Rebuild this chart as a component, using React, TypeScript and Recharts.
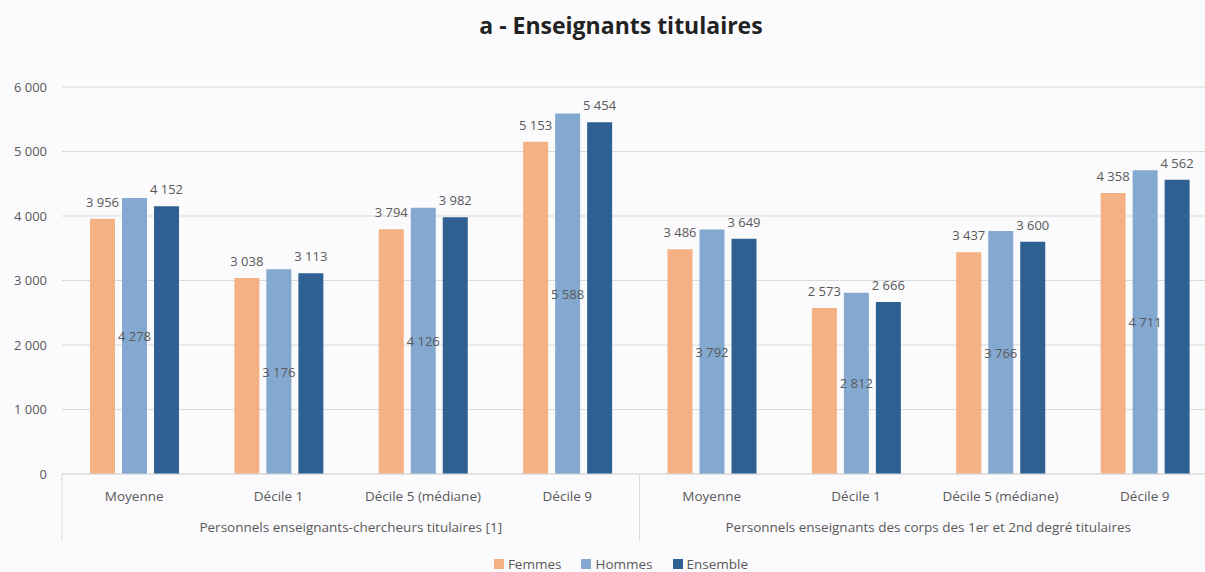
import React from "react";
import {
  BarChart, Bar, XAxis, YAxis, CartesianGrid, Legend, LabelList,
} from "recharts";

const CATEGORIES = [
  "Moyenne", "Décile 1", "Décile 5 (médiane)", "Décile 9",
  "Moyenne", "Décile 1", "Décile 5 (médiane)", "Décile 9",
];
const GROUPS = [
  "Personnels enseignants-chercheurs titulaires [1]",
  "Personnels enseignants des corps des 1er et 2nd degré titulaires",
];
const FEMMES = [3956, 3038, 3794, 5153, 3486, 2573, 3437, 4358];
const HOMMES = [4278, 3176, 4126, 5588, 3792, 2812, 3766, 4711];
const ENSEMBLE = [4152, 3113, 3982, 5454, 3649, 2666, 3600, 4562];
const Y_TICKS = [0, 1000, 2000, 3000, 4000, 5000, 6000];
const SERIES = [
  { key: "femmes", name: "Femmes", color: "#f4b183" },
  { key: "hommes", name: "Hommes", color: "#84a9d0" },
  { key: "ensemble", name: "Ensemble", color: "#2f6092" },
];

const data = CATEGORIES.map((c, i) => ({
  cat: c,
  key: `${i}`,
  femmes: FEMMES[i],
  hommes: HOMMES[i],
  ensemble: ENSEMBLE[i],
}));

const W = 1217;
const H = 572;
const LEFT = 62;
const TOP = 87;
const XH = 30;
const BOTTOM = 98 - XH;
const BAND = (W - LEFT) / CATEGORIES.length;
const FONT = "'Open Sans', sans-serif";
const TEXT = "#595959";
const LINE = "#d9d9d9";

const fmt = (v: number) => String(v).replace(/\B(?=(\d{3})+(?!\d))/g, " ");

function CatTick(props: any) {
  const { x, y, payload, index } = props;
  const i = index ?? payload.index;
  const els: React.ReactNode[] = [];
  els.push(
    <text key="c" x={x} y={y + 27} textAnchor="middle" fill={TEXT} fontSize={13.5} fontFamily={FONT}>
      {CATEGORIES[i]}
    </text>
  );
  if (i % 4 === 0) {
    els.push(
      <line key="l" x1={x - BAND / 2} x2={x - BAND / 2} y1={y} y2={y + 66} stroke={LINE} />
    );
  }
  if (i % 4 === 3) {
    els.push(
      <line key="r" x1={x + BAND / 2} x2={x + BAND / 2} y1={y} y2={y + 66} stroke={LINE} />
    );
  }
  if (i % 4 === 1) {
    els.push(
      <text key="g" x={x + BAND / 2} y={y + 58} textAnchor="middle" fill={TEXT} fontSize={13.5} fontFamily={FONT}>
        {GROUPS[Math.floor(i / 4)]}
      </text>
    );
  }
  return <g>{els}</g>;
}

function TopLabel(props: any) {
  const { x, y, width, value } = props;
  return (
    <text x={x + width / 2} y={y - 12} textAnchor="middle" fill={TEXT} fontSize={13} fontFamily={FONT}>
      {fmt(value)}
    </text>
  );
}

function MidLabel(props: any) {
  const { x, y, width, height, value } = props;
  return (
    <text x={x + width / 2} y={y + height / 2 + 5} textAnchor="middle" fill={TEXT} fontSize={13} fontFamily={FONT}>
      {fmt(value)}
    </text>
  );
}

function LegendContent() {
  return (
    <div style={{ display: "flex", justifyContent: "center", gap: 20, fontFamily: FONT, fontSize: 13.5, lineHeight: "14px", color: TEXT }}>
      {SERIES.map((s) => (
        <span key={s.key} style={{ display: "flex", alignItems: "center" }}>
          <span style={{ width: 10, height: 10, background: s.color, marginRight: 4, display: "inline-block" }} />
          {s.name}
        </span>
      ))}
    </div>
  );
}

export default function App() {
  return (
    <div style={{ position: "absolute", left: 0, top: 0, width: 1205, height: H, overflow: "hidden", background: "#fbfbfd" }}>
      <div style={{
        position: "absolute", left: 0, width: 1242, top: 9, textAlign: "center",
        fontFamily: FONT, fontWeight: 700, fontSize: 23, color: "#222",
      }}>
        a - Enseignants titulaires
      </div>
      <BarChart
        width={W}
        height={H}
        data={data}
        margin={{ top: TOP, right: 0, left: 0, bottom: BOTTOM }}
        barSize={25}
        barGap={7}
      >
        <CartesianGrid vertical={false} stroke={LINE} />
        <XAxis
          dataKey="key"
          height={XH}
          axisLine={{ stroke: LINE }}
          tickLine={false}
          tickSize={0}
          tickMargin={0}
          interval={0}
          tick={<CatTick />}
        />
        <YAxis
          width={LEFT}
          domain={[0, 6000]}
          ticks={Y_TICKS}
          axisLine={false}
          tickLine={false}
          tickSize={0}
          tickMargin={15}
          tickFormatter={fmt}
          tick={{ fill: TEXT, fontSize: 13, fontFamily: FONT }}
        />
        <Legend
          layout="horizontal"
          verticalAlign="middle"
          align="center"
          wrapperStyle={{ top: 557, left: 0, width: 1242 }}
          content={<LegendContent />}
        />
        {SERIES.map((s) => (
          <Bar key={s.key} dataKey={s.key} name={s.name} fill={s.color} isAnimationActive={false}>
            <LabelList dataKey={s.key} content={s.key === "hommes" ? <MidLabel /> : <TopLabel />} />
          </Bar>
        ))}
      </BarChart>
    </div>
  );
}
